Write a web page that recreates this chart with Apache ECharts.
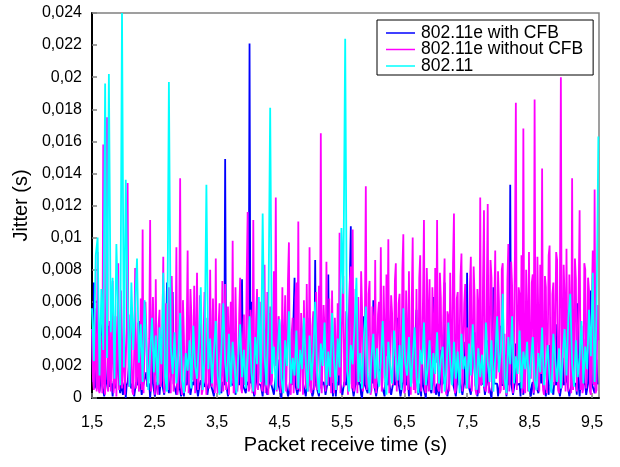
<!DOCTYPE html>
<html>
<head>
<meta charset="utf-8">
<script src="https://cdn.jsdelivr.net/npm/echarts@6/dist/echarts.min.js"></script>
<style>
  html, body { margin: 0; padding: 0; background: #fff; }
  #chart { width: 620px; height: 467px; }
</style>
</head>
<body>
<div id="chart"></div>
<script>
// Packet receive times (s) for the 802.11e runs
const receiveTimeE = [
  1.5,1.515,1.53,1.545,1.56,1.575,1.59,1.605,1.62,1.635,1.65,1.665,1.68,1.695,1.71,1.725,1.74,1.755,1.77,1.785,
  1.8,1.815,1.83,1.845,1.86,1.875,1.89,1.905,1.92,1.935,1.95,1.965,1.98,1.995,2.01,2.025,2.04,2.055,2.07,2.085,
  2.1,2.115,2.13,2.145,2.16,2.175,2.19,2.205,2.22,2.235,2.25,2.265,2.28,2.295,2.31,2.325,2.34,2.355,2.37,2.385,
  2.4,2.415,2.43,2.445,2.46,2.475,2.49,2.505,2.52,2.535,2.55,2.565,2.58,2.595,2.61,2.625,2.64,2.655,2.67,2.685,
  2.7,2.715,2.73,2.745,2.76,2.775,2.79,2.805,2.82,2.835,2.85,2.865,2.88,2.895,2.91,2.925,2.94,2.955,2.97,2.985,
  3.0,3.015,3.03,3.045,3.06,3.075,3.09,3.105,3.12,3.135,3.15,3.165,3.18,3.195,3.21,3.225,3.24,3.255,3.27,3.285,
  3.3,3.315,3.33,3.345,3.36,3.375,3.39,3.405,3.42,3.435,3.45,3.465,3.48,3.495,3.51,3.525,3.54,3.555,3.57,3.585,
  3.6,3.615,3.63,3.645,3.66,3.675,3.69,3.705,3.72,3.735,3.75,3.765,3.78,3.795,3.81,3.825,3.84,3.855,3.87,3.885,
  3.9,3.915,3.93,3.945,3.96,3.975,3.99,4.005,4.02,4.035,4.05,4.065,4.08,4.095,4.11,4.125,4.14,4.155,4.17,4.185,
  4.2,4.215,4.23,4.245,4.26,4.275,4.29,4.305,4.32,4.335,4.35,4.365,4.38,4.395,4.41,4.425,4.44,4.455,4.47,4.485,
  4.5,4.515,4.53,4.545,4.56,4.575,4.59,4.605,4.62,4.635,4.65,4.665,4.68,4.695,4.71,4.725,4.74,4.755,4.77,4.785,
  4.8,4.815,4.83,4.845,4.86,4.875,4.89,4.905,4.92,4.935,4.95,4.965,4.98,4.995,5.01,5.025,5.04,5.055,5.07,5.085,
  5.1,5.115,5.13,5.145,5.16,5.175,5.19,5.205,5.22,5.235,5.25,5.265,5.28,5.295,5.31,5.325,5.34,5.355,5.37,5.385,
  5.4,5.415,5.43,5.445,5.46,5.475,5.49,5.505,5.52,5.535,5.55,5.565,5.58,5.595,5.61,5.625,5.64,5.655,5.67,5.685,
  5.7,5.715,5.73,5.745,5.76,5.775,5.79,5.805,5.82,5.835,5.85,5.865,5.88,5.895,5.91,5.925,5.94,5.955,5.97,5.985,
  6.0,6.015,6.03,6.045,6.06,6.075,6.09,6.105,6.12,6.135,6.15,6.165,6.18,6.195,6.21,6.225,6.24,6.255,6.27,6.285,
  6.3,6.315,6.33,6.345,6.36,6.375,6.39,6.405,6.42,6.435,6.45,6.465,6.48,6.495,6.51,6.525,6.54,6.555,6.57,6.585,
  6.6,6.615,6.63,6.645,6.66,6.675,6.69,6.705,6.72,6.735,6.75,6.765,6.78,6.795,6.81,6.825,6.84,6.855,6.87,6.885,
  6.9,6.915,6.93,6.945,6.96,6.975,6.99,7.005,7.02,7.035,7.05,7.065,7.08,7.095,7.11,7.125,7.14,7.155,7.17,7.185,
  7.2,7.215,7.23,7.245,7.26,7.275,7.29,7.305,7.32,7.335,7.35,7.365,7.38,7.395,7.41,7.425,7.44,7.455,7.47,7.485,
  7.5,7.515,7.53,7.545,7.56,7.575,7.59,7.605,7.62,7.635,7.65,7.665,7.68,7.695,7.71,7.725,7.74,7.755,7.77,7.785,
  7.8,7.815,7.83,7.845,7.86,7.875,7.89,7.905,7.92,7.935,7.95,7.965,7.98,7.995,8.01,8.025,8.04,8.055,8.07,8.085,
  8.1,8.115,8.13,8.145,8.16,8.175,8.19,8.205,8.22,8.235,8.25,8.265,8.28,8.295,8.31,8.325,8.34,8.355,8.37,8.385,
  8.4,8.415,8.43,8.445,8.46,8.475,8.49,8.505,8.52,8.535,8.55,8.565,8.58,8.595,8.61,8.625,8.64,8.655,8.67,8.685,
  8.7,8.715,8.73,8.745,8.76,8.775,8.79,8.805,8.82,8.835,8.85,8.865,8.88,8.895,8.91,8.925,8.94,8.955,8.97,8.985,
  9.0,9.015,9.03,9.045,9.06,9.075,9.09,9.105,9.12,9.135,9.15,9.165,9.18,9.195,9.21,9.225,9.24,9.255,9.27,9.285,
  9.3,9.315,9.33,9.345,9.36,9.375,9.39,9.405,9.42,9.435,9.45,9.465,9.48,9.495,9.51,9.525,9.54,9.555,9.57,9.585,
  9.6
];

// Packet receive times (s) for the plain 802.11 run
const receiveTimeLegacy = [
  1.50,1.53,1.56,1.59,1.62,1.65,1.68,1.71,1.74,1.77,
  1.80,1.83,1.86,1.89,1.92,1.95,1.98,2.01,2.04,2.07,
  2.10,2.13,2.16,2.19,2.22,2.25,2.28,2.31,2.34,2.37,
  2.40,2.43,2.46,2.49,2.52,2.55,2.58,2.61,2.64,2.67,
  2.70,2.73,2.76,2.79,2.82,2.85,2.88,2.91,2.94,2.97,
  3.00,3.03,3.06,3.09,3.12,3.15,3.18,3.21,3.24,3.27,
  3.30,3.33,3.36,3.39,3.42,3.45,3.48,3.51,3.54,3.57,
  3.60,3.63,3.66,3.69,3.72,3.75,3.78,3.81,3.84,3.87,
  3.90,3.93,3.96,3.99,4.02,4.05,4.08,4.11,4.14,4.17,
  4.20,4.23,4.26,4.29,4.32,4.35,4.38,4.41,4.44,4.47,
  4.50,4.53,4.56,4.59,4.62,4.65,4.68,4.71,4.74,4.77,
  4.80,4.83,4.86,4.89,4.92,4.95,4.98,5.01,5.04,5.07,
  5.10,5.13,5.16,5.19,5.22,5.25,5.28,5.31,5.34,5.37,
  5.40,5.43,5.46,5.49,5.52,5.55,5.58,5.61,5.64,5.67,
  5.70,5.73,5.76,5.79,5.82,5.85,5.88,5.91,5.94,5.97,
  6.00,6.03,6.06,6.09,6.12,6.15,6.18,6.21,6.24,6.27,
  6.30,6.33,6.36,6.39,6.42,6.45,6.48,6.51,6.54,6.57,
  6.60,6.63,6.66,6.69,6.72,6.75,6.78,6.81,6.84,6.87,
  6.90,6.93,6.96,6.99,7.02,7.05,7.08,7.11,7.14,7.17,
  7.20,7.23,7.26,7.29,7.32,7.35,7.38,7.41,7.44,7.47,
  7.50,7.53,7.56,7.59,7.62,7.65,7.68,7.71,7.74,7.77,
  7.80,7.83,7.86,7.89,7.92,7.95,7.98,8.01,8.04,8.07,
  8.10,8.13,8.16,8.19,8.22,8.25,8.28,8.31,8.34,8.37,
  8.40,8.43,8.46,8.49,8.52,8.55,8.58,8.61,8.64,8.67,
  8.70,8.73,8.76,8.79,8.82,8.85,8.88,8.91,8.94,8.97,
  9.00,9.03,9.06,9.09,9.12,9.15,9.18,9.21,9.24,9.27,
  9.30,9.33,9.36,9.39,9.42,9.45,9.48,9.51,9.54,9.57,
  9.60
];

// Jitter (ms), 802.11e with CFB
const jitterWithCfb = [
  4.3,1.0,7.2,0.6,1.0,3.8,6.1,0.9,0.4,1.0,5.0,0.8,0.9,0.1,0.2,0.9,1.1,2.4,4.5,0.7,
  0.8,0.9,0.1,1.0,1.2,0.6,0.7,1.9,3.6,0.8,0.3,0.9,0.9,0.2,0.8,1.0,0.0,0.8,1.0,0.9,
  2.4,0.8,0.6,0.9,0.9,0.1,0.2,1.0,1.0,0.8,4.8,0.9,0.7,0.2,0.1,0.9,0.9,1.0,1.6,0.7,
  0.8,0.9,0.0,0.8,2.9,0.9,0.9,0.1,0.5,1.0,1.0,0.8,0.2,0.9,3.8,0.8,0.8,0.2,0.9,1.0,
  7.2,0.8,0.3,0.9,1.0,1.8,6.6,0.9,0.7,0.8,0.2,1.0,2.6,0.8,0.9,0.1,0.8,0.9,0.1,1.0,
  1.0,0.8,3.4,0.9,0.8,0.2,0.2,1.0,0.9,0.8,4.4,0.9,0.9,0.1,0.0,0.9,1.1,0.8,2.2,1.0,
  0.7,0.8,0.9,0.2,0.3,1.0,5.6,0.8,0.8,0.9,0.1,1.0,1.0,2.1,3.0,0.8,0.8,0.9,0.3,1.0,
  1.1,0.8,14.9,0.9,0.9,0.1,0.2,1.0,4.0,0.8,0.8,0.9,0.9,0.2,0.1,1.0,2.7,0.8,0.9,0.9,
  7.4,0.8,0.7,0.9,0.3,1.0,1.0,0.8,22.1,0.9,6.0,0.8,0.8,0.1,0.2,1.0,4.8,0.9,0.9,0.8,
  0.8,0.9,0.1,1.0,3.2,0.8,0.9,0.2,0.6,1.0,5.3,0.9,0.8,0.8,0.2,0.9,1.0,1.7,2.4,0.8,
  0.9,0.8,0.0,0.9,1.0,0.8,4.1,0.9,0.8,0.1,0.3,1.0,2.0,0.8,0.9,0.9,7.5,0.8,0.7,0.2,
  0.2,0.9,1.0,0.8,3.6,0.9,0.8,1.0,0.1,0.8,0.9,2.6,5.0,0.9,0.8,0.1,0.3,1.0,8.6,0.8,
  0.9,0.8,0.1,0.9,2.8,0.8,0.9,1.0,0.7,0.2,0.2,0.9,7.7,0.8,0.8,0.9,0.9,0.1,3.3,0.8,
  0.1,1.0,0.9,0.8,4.6,0.9,0.8,0.2,0.2,1.0,1.0,0.8,2.5,0.9,0.8,0.8,10.7,0.9,0.9,0.1,
  0.2,0.9,3.8,0.8,0.9,1.0,0.8,0.2,0.0,0.9,5.1,0.8,0.9,0.9,0.3,1.0,1.0,0.8,2.9,0.9,
  6.1,0.8,0.8,0.1,0.2,0.9,0.9,1.9,3.7,0.8,0.8,0.9,0.1,1.0,1.0,0.8,4.3,0.9,0.9,0.2,
  0.3,0.9,2.6,0.8,0.8,1.0,5.0,0.9,0.9,0.1,0.2,0.8,1.0,0.9,3.1,0.8,0.8,1.0,0.1,0.9,
  0.9,0.8,4.4,0.9,0.8,1.0,5.5,0.8,0.2,0.9,0.9,0.1,2.3,0.8,0.8,0.9,0.0,1.0,3.9,0.8,
  0.9,0.8,0.3,1.0,6.3,0.9,0.8,0.2,0.9,0.8,0.1,0.9,3.0,0.8,0.9,1.0,7.2,0.8,0.8,0.1,
  0.2,0.9,1.0,0.8,4.7,0.9,0.8,1.0,0.1,0.8,0.9,2.0,2.6,0.9,0.8,0.2,0.3,1.0,3.5,0.8,
  7.8,0.9,0.9,0.8,0.2,1.0,1.0,0.9,4.1,0.8,0.8,0.1,0.1,0.9,2.2,0.8,0.9,1.0,0.8,0.2,
  0.3,1.0,3.6,0.8,0.9,0.9,0.0,0.8,6.9,0.9,0.8,1.0,0.9,0.1,0.2,0.9,4.5,0.8,0.9,0.9,
  0.8,1.0,0.1,0.9,2.9,0.8,13.3,0.9,0.9,0.2,0.2,1.0,3.4,0.8,0.8,0.9,0.9,0.1,5.0,0.8,
  0.2,0.9,0.9,0.8,3.8,1.0,0.8,0.9,0.1,0.8,1.0,0.2,2.7,0.9,0.9,0.8,0.3,1.0,4.2,0.9,
  6.1,0.8,0.8,0.9,0.1,1.0,0.9,0.2,3.3,0.8,0.8,0.9,0.2,1.0,1.0,0.8,4.6,0.9,0.9,0.1,
  0.0,0.9,2.5,0.8,0.8,1.0,5.5,0.9,0.9,0.1,0.2,0.8,3.0,0.9,0.8,1.0,0.9,0.2,5.9,0.8,
  0.1,0.9,0.9,0.8,3.7,1.0,0.8,0.2,0.2,0.9,1.0,0.8,6.7,0.9,0.8,1.0,0.3,0.8,2.4,0.9,
  0.9
];

// Jitter (ms), 802.11e without CFB
const jitterWithoutCfb = [
  4.3,1.2,0.5,5.6,2.1,0.4,9.1,0.6,0.3,3.9,1.8,0.3,15.8,0.9,0.2,6.5,17.5,0.4,1.2,4.8,
  0.4,2.6,7.3,0.3,1.0,5.1,0.1,3.2,8.4,0.5,2.0,6.7,0.6,1.9,5.8,0.2,0.3,4.4,13.4,0.7,
  0.8,5.2,3.5,0.4,0.2,2.9,8.1,0.6,1.5,4.7,0.4,1.3,6.2,0.5,10.5,0.3,0.3,6.0,4.1,0.9,
  1.2,3.7,11.1,0.4,0.5,6.3,3.0,0.2,7.4,1.6,0.2,4.5,5.5,0.7,1.1,3.4,8.8,0.3,0.4,5.9,
  2.6,0.5,6.9,1.8,0.3,7.6,4.8,0.4,1.4,3.1,9.4,0.2,0.6,5.3,13.7,0.8,0.2,6.1,3.9,0.4,
  1.0,4.2,9.2,0.3,0.4,6.8,5.1,1.1,2.2,7.0,0.3,3.6,7.8,0.5,1.3,6.4,4.4,0.2,0.5,3.8,
  6.6,1.4,0.2,5.0,3.3,0.6,8.0,2.3,0.7,6.2,2.5,0.3,8.7,1.0,0.3,4.6,5.9,0.4,1.5,7.3,
  0.4,3.3,7.1,0.5,2.8,5.7,0.2,4.0,6.0,1.2,9.8,0.3,0.5,6.9,3.6,0.4,1.2,5.2,7.5,0.6,
  0.3,3.9,5.2,0.8,2.0,7.7,11.6,0.4,0.6,5.5,4.4,0.3,11.1,1.7,0.2,4.9,6.8,0.5,1.6,6.0,
  3.1,0.6,0.4,5.8,8.3,0.3,2.4,6.6,0.2,3.4,5.7,0.8,1.1,4.3,7.9,2.0,12.5,0.4,0.3,5.1,
  4.6,0.3,1.8,6.9,0.5,3.7,6.4,0.4,2.9,7.4,9.7,0.6,0.2,4.1,5.0,0.3,1.4,6.3,7.2,0.5,
  11.0,0.7,0.4,5.3,3.8,0.2,6.1,2.6,0.6,7.1,2.3,0.4,9.4,0.8,0.3,4.5,5.4,0.5,1.9,6.6,
  0.5,3.9,7.0,0.6,16.5,0.3,0.2,5.8,4.2,0.4,8.5,1.5,0.8,6.2,3.1,0.3,6.7,2.4,0.3,5.0,
  2.7,0.5,5.9,1.4,10.3,0.3,0.4,6.1,7.6,0.7,1.7,5.4,4.9,0.2,0.2,7.3,8.2,0.6,10.5,0.4,
  0.6,6.8,3.5,0.3,6.3,2.0,1.0,7.9,5.6,0.4,0.3,4.8,13.2,0.5,2.1,6.5,7.3,0.2,0.5,5.7,
  4.7,0.6,8.6,0.3,0.2,5.2,6.0,1.8,9.4,0.4,1.3,7.0,3.9,0.5,7.7,2.6,9.9,0.3,0.4,6.4,
  5.3,0.8,2.2,7.3,8.4,0.4,0.3,5.9,6.5,0.6,1.6,8.0,10.2,0.3,0.5,6.7,4.1,0.5,7.9,1.2,
  0.2,6.0,10.0,0.5,3.4,0.3,6.8,1.9,0.6,7.5,8.9,0.4,2.5,6.3,11.1,0.6,0.3,8.1,5.8,0.4,
  7.4,0.5,1.1,6.9,4.6,0.3,8.1,2.2,11.1,0.6,0.4,7.8,6.2,0.3,2.9,6.0,8.7,0.5,0.2,5.4,
  5.1,0.4,7.8,2.7,1.5,8.4,11.5,0.3,0.5,6.2,6.6,0.8,3.3,7.6,9.0,0.4,0.3,5.9,7.1,0.6,
  4.4,1.5,0.6,7.0,8.8,0.4,2.7,8.2,6.3,0.5,0.2,6.8,5.5,0.3,12.5,0.8,1.0,7.4,11.7,0.6,
  0.4,6.5,12.1,0.3,3.0,8.6,7.5,0.4,0.3,5.7,9.2,1.2,2.2,7.9,6.0,0.3,0.5,8.0,8.4,0.5,
  4.0,0.6,0.2,7.4,9.6,0.4,1.8,8.5,7.0,0.3,3.6,9.0,18.4,0.5,0.4,6.9,6.4,1.0,8.9,0.3,
  16.8,0.6,0.3,8.0,5.2,0.4,9.1,2.3,1.2,7.2,7.7,0.3,18.6,0.7,0.5,8.8,4.8,0.4,8.3,1.5,
  14.3,0.5,0.2,7.6,6.9,0.3,3.1,8.9,9.5,0.4,0.6,6.5,7.2,0.8,4.3,9.1,8.6,0.5,0.3,7.0,
  20.0,0.6,2.4,8.3,6.1,0.4,9.3,1.9,0.4,7.7,5.0,0.3,13.7,0.5,1.7,8.7,7.4,0.4,0.3,6.6,
  11.7,0.5,4.5,0.3,0.6,8.4,8.0,0.6,2.8,7.5,6.7,0.4,0.2,6.0,9.2,0.8,13.0,0.3,0.5,5.8,
  3.6
];

// Jitter (ms), 802.11
const jitterLegacy = [
  5.6,2.3,8.9,10.0,1.4,6.8,3.0,19.6,2.5,20.2,
  4.1,7.5,1.2,9.6,5.2,0.8,24.0,1.9,13.6,6.4,
  0.7,7.2,3.0,5.8,8.7,2.2,4.6,1.0,6.1,3.3,
  0.5,2.7,5.0,1.6,3.9,0.8,4.4,2.1,7.8,1.3,
  0.4,19.7,3.2,1.5,4.1,0.9,2.6,5.3,1.1,0.3,
  2.8,1.7,3.6,0.6,4.5,2.0,1.2,3.4,6.9,0.5,
  2.4,13.3,1.8,3.7,0.9,2.9,4.8,1.4,0.2,3.1,
  5.9,2.2,1.0,4.0,0.7,3.5,1.9,0.3,2.7,4.6,
  1.3,3.0,0.6,2.4,5.1,1.6,0.4,3.8,2.1,6.3,
  1.0,11.5,2.6,0.8,4.3,18.1,1.5,3.2,0.5,2.8,
  4.9,1.2,0.3,3.6,2.0,5.4,0.9,2.5,1.4,4.2,
  0.6,3.0,1.8,5.0,2.2,0.4,3.9,1.1,2.7,6.0,
  1.6,0.3,3.4,2.0,4.7,0.8,2.9,1.3,5.3,2.4,
  0.5,3.7,1.9,10.6,6.5,22.4,1.7,0.4,3.3,2.1,
  4.5,7.5,1.0,2.8,0.6,3.9,5.7,1.5,0.3,2.6,
  4.0,1.2,3.1,0.7,2.3,4.8,1.6,0.2,3.5,2.0,
  0.9,4.2,2.6,1.1,3.3,0.5,5.6,2.2,1.4,3.8,
  0.7,2.5,4.4,1.3,0.3,3.0,2.1,4.7,0.8,1.9,
  3.6,0.5,2.8,1.5,4.1,0.9,2.4,3.2,0.4,1.7,
  4.7,2.3,0.8,3.5,1.2,2.9,0.3,4.0,1.8,2.6,
  0.6,3.4,1.4,4.6,2.0,0.5,3.1,1.3,2.7,0.7,
  4.7,2.2,1.0,3.6,0.4,2.5,5.1,1.6,3.0,6.5,
  1.2,0.3,3.8,2.1,5.1,0.9,2.6,1.5,4.2,0.6,
  2.9,1.8,3.5,0.4,2.3,3.8,1.1,0.5,2.8,1.6,
  4.4,0.8,2.0,3.3,1.2,0.3,4.0,2.4,1.0,3.1,
  0.6,2.7,4.3,1.4,5.0,6.5,2.1,0.7,3.6,1.3,
  2.5,4.8,0.9,3.2,1.8,5.5,2.6,7.8,1.0,5.2,
  16.3
];

const seriesNames = ['802.11e with CFB', '802.11e without CFB', '802.11'];
const seriesColors = ['#0000ff', '#ff00ff', '#00ffff'];
const seriesTimes = [receiveTimeE, receiveTimeE, receiveTimeLegacy];
const seriesValues = [jitterWithCfb, jitterWithoutCfb, jitterLegacy];

const FONT = '"Liberation Sans", Arial, sans-serif';

// pair receive times with jitter, converting ms to s
function toPoints(times, values) {
  const n = Math.min(times.length, values.length);
  const pts = [];
  for (let i = 0; i < n; i++) pts.push([times[i], values[i] / 1000]);
  return pts;
}

function commaDecimal(v, digits) {
  return String(parseFloat(v.toFixed(digits))).replace('.', ',');
}

const chart = echarts.init(document.getElementById('chart'), null, { renderer: 'canvas' });

chart.setOption({
  animation: false,
  backgroundColor: '#ffffff',
  textStyle: { fontFamily: FONT },
  grid: {
    left: 92, right: 21, top: 13, bottom: 69,
    show: true,
    borderColor: '#808080',
    borderWidth: 1.5,
    backgroundColor: 'transparent'
  },
  legend: {
    orient: 'vertical',
    left: 377,
    top: 20,
    backgroundColor: '#ffffff',
    borderColor: '#000000',
    borderWidth: 1,
    borderRadius: 0,
    padding: [4, 10, 0, 9],
    icon: 'rect',
    itemWidth: 29,
    itemHeight: 1.5,
    itemGap: -1.5,
    itemStyle: { borderWidth: 0 },
    textStyle: { fontFamily: FONT, fontSize: 17.5, lineHeight: 16.5, color: '#000', padding: [0, 0, 0, 1] },
    data: seriesNames
  },
  xAxis: {
    type: 'value',
    min: 1.5,
    max: 9.61,
    interval: 1,
    name: 'Packet receive time (s)',
    nameLocation: 'middle',
    nameGap: 36,
    nameTextStyle: { fontFamily: FONT, fontSize: 20, color: '#000' },
    axisLine: { show: true, lineStyle: { color: '#000', width: 2 } },
    axisTick: { show: true, inside: true, length: 5, lineStyle: { color: '#808080', width: 1.5 } },
    axisLabel: {
      margin: 17,
      fontFamily: FONT, fontSize: 16, color: '#000',
      showMaxLabel: false,
      formatter: v => (Math.abs(v * 10 % 10 - 5) < 0.01 ? commaDecimal(v, 1) : '')
    },
    splitLine: { show: false }
  },
  yAxis: {
    type: 'value',
    min: 0,
    max: 0.024,
    interval: 0.002,
    name: 'Jitter (s)',
    nameLocation: 'middle',
    nameGap: 60,
    nameTextStyle: { fontFamily: FONT, fontSize: 20, color: '#000' },
    axisLine: { show: true, lineStyle: { color: '#000', width: 2 } },
    axisTick: { show: true, inside: true, length: 5, lineStyle: { color: '#808080', width: 1.5 } },
    axisLabel: {
      margin: 10,
      fontFamily: FONT, fontSize: 16, color: '#000',
      formatter: v => commaDecimal(v, 3)
    },
    splitLine: { show: false }
  },
  series: seriesNames.map((name, k) => ({
    name,
    type: 'line',
    data: toPoints(seriesTimes[k], seriesValues[k]),
    symbol: 'none',
    showSymbol: false,
    sampling: null,
    clip: true,
    color: seriesColors[k],
    lineStyle: { color: seriesColors[k], width: 1.8 },
    z: 2 + k
  }))
});
</script>
</body>
</html>
